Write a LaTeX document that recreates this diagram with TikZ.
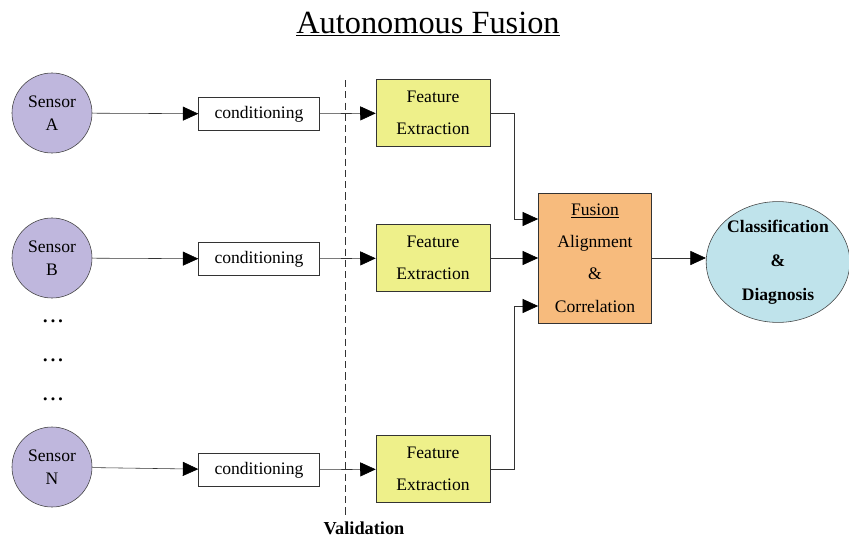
\documentclass[tikz,border=0pt]{standalone}
\usepackage{fontspec}
\setmainfont{Liberation Serif}
\usetikzlibrary{
  arrows.meta, % filled arrow heads
  calc,
  positioning,
  shapes.geometric,
}
\definecolor{sensorfill}{RGB}{191,183,221}
\definecolor{featfill}{RGB}{238,240,138}
\definecolor{fusionfill}{RGB}{247,187,125}
\definecolor{classfill}{RGB}{191,227,235}

\tikzset{
  txt/.style={font=\fontsize{12.5}{23}\selectfont, align=center, inner sep=0pt},
  sensor/.style={txt, circle, draw=black!75, fill=sensorfill, minimum size=2cm, font=\fontsize{12.5}{16}\selectfont},
  condbox/.style={txt, draw=black!80, fill=white, minimum width=3.02cm, minimum height=0.82cm},
  featbox/.style={txt, draw=black!80, fill=featfill, minimum width=2.85cm, minimum height=1.68cm},
  fusebox/.style={txt, draw=black!80, fill=fusionfill, minimum width=2.83cm, minimum height=3.25cm},
  classnode/.style={txt, ellipse, draw=black!75, fill=classfill, minimum width=3.55cm, minimum height=3.02cm, font=\fontsize{12.5}{24}\selectfont\bfseries},
  link/.style={draw=black!80, -{Triangle[length=11pt, width=10pt, color=black]}},
}

\begin{document}
\begin{tikzpicture}[x=0.025cm, y=-0.025cm]
  \useasboundingbox (0,0) rectangle (849,539);
  \node [font=\rmfamily\fontsize{23}{26}\selectfont] (title) at (428,24) {\underline{Autonomous Fusion}};

  % sensors
  \node [sensor] (sA) at (52,113) {Sensor\\A};
  \node [sensor] (sB) at (52,258) {Sensor\\B};
  \node [sensor] (sN) at (52,467) {Sensor\\N};
  \foreach \y/\n in {323/d1, 362/d2, 401/d3}
    \node [txt, font=\fontsize{9}{10}\selectfont] (\n) at (53,\y) {\textbullet\ \textbullet\ \textbullet};

  % conditioning
  \node [condbox] (cA) at (259,114) {conditioning};
  \node [condbox] (cB) at (259,259) {conditioning};
  \node [condbox] (cN) at (259,470) {conditioning};

  % validation line
  \coordinate (vtop) at (345,80);
  \coordinate (vbot) at (345,515);
  \draw [black!80, dash pattern=on 5pt off 3pt] (vtop) -- (vbot);
  \node [txt, font=\fontsize{13}{15}\selectfont\bfseries] (valid) at (364,528) {Validation};

  % feature extraction
  \node [featbox] (fA) at (433,113) {Feature\\Extraction};
  \node [featbox] (fB) at (433,258) {Feature\\Extraction};
  \node [featbox] (fN) at (433,469) {Feature\\Extraction};

  % fusion and output
  \node [fusebox] (fu) at (595,258) {\underline{Fusion}\\Alignment\\\&\\Correlation};
  \node [classnode] (cd) at (778,262) {Classification\\\&\\Diagnosis};

  \draw [link] (sA) -- (cA);
  \draw [link] (sB) -- (cB);
  \draw [link] (sN) -- (cN);
  \draw [link] (cA) -- (fA);
  \draw [link] (cB) -- (fB);
  \draw [link] (cN) -- (fN);
  \draw [link] (fA.east) -- ++(24,0) |- ($(fu.west)+(0,-39)$);
  \draw [link] (fB) -- (fu);
  \draw [link] (fN.east) -- ++(24,0) |- ($(fu.west)+(0,48)$);
  \draw [link] (fu.east) -- (fu.east -| cd.west);
\end{tikzpicture}
\end{document}
